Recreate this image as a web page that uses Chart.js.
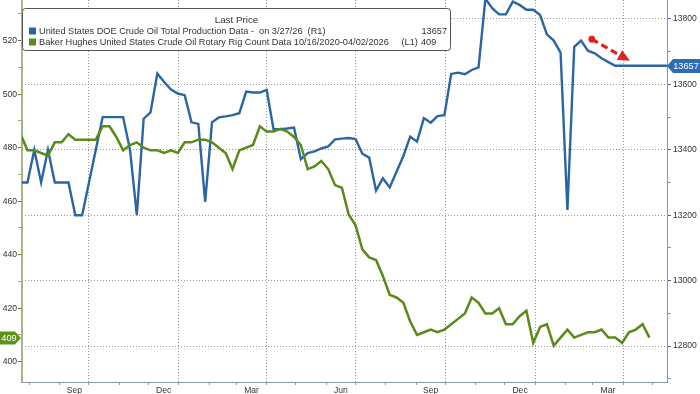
<!DOCTYPE html>
<html>
<head>
<meta charset="utf-8">
<script src="https://cdn.jsdelivr.net/npm/chart.js@4.4.1/dist/chart.umd.min.js"></script>
<style>
  html, body { margin: 0; padding: 0; background: #fff; }
</style>
</head>
<body>
<canvas id="grafico" width="700" height="394"></canvas>
<script>
// Variables
// Semana del primer punto (una semana antes del borde izquierdo)
const inicioSerie = '2024-07-23';

// DOE produccion semanal de crudo, miles b/d (eje derecho, R1)
const produccion = [
  13300, 13300, 13400, 13300, 13400, 13300, 13300, 13300, 13200, 13200,
  13300, 13400, 13500, 13500, 13500, 13500, 13400, 13200, 13495, 13514,
  13633, 13607, 13584, 13572, 13567, 13484, 13479, 13241, 13484, 13499,
  13502, 13506, 13512, 13578, 13575, 13575, 13583, 13463, 13463, 13465,
  13468, 13371, 13390, 13395, 13404, 13410, 13432, 13434, 13436, 13433,
  13388, 13376, 13275, 13313, 13285, 13333, 13381, 13440, 13425, 13497,
  13483, 13503, 13506, 13632, 13636, 13631, 13644, 13652, 13862, 13833,
  13814, 13814, 13853, 13843, 13828, 13828, 13812, 13753, 13734, 13697,
  13216, 13715, 13734, 13703, 13695, 13680, 13668, 13657
];

// Baker Hughes equipos de crudo (eje izquierdo, L1)
const equipos = [
  485, 479, 479, 478, 477, 482, 482, 485, 483, 483,
  483, 483, 488, 488, 484, 479, 481, 482, 480, 479,
  479, 478, 479, 478, 482, 482, 483, 483, 482, 480,
  478, 472, 479, 480, 481, 488, 486, 486, 487, 486,
  484, 481, 472, 473, 475, 472, 466, 465, 455, 451,
  442, 439, 438, 432, 425, 424, 422, 415, 410, 411,
  412, 411, 412, 414, 416, 418, 424, 422, 418, 418,
  420, 414, 414, 417, 419, 407, 413, 414, 406, 409,
  412, 409, 410, 411, 411, 412, 409, 409, 407, 411,
  412, 414, 409
];

// Marcas de los ejes
const ticksIzq = [400, 420, 440, 460, 480, 500, 520];
const ticksDer = [12800, 13000, 13200, 13400, 13600, 13800];
const mesesX = ['2024-09', '2024-12', '2025-03', '2025-06', '2025-09', '2025-12', '2026-03'];
const etiquetasX = ['Sep', 'Dec', 'Mar', 'Jun', 'Sep', 'Dec', 'Mar'];

// Textos de la leyenda
const tituloLeyenda = 'Last Price';
const nombreProduccion = 'United States DOE Crude Oil Total Production Data -  on 3/27/26  (R1)';
const nombreEquipos = 'Baker Hughes United States Crude Oil Rotary Rig Count Data 10/16/2020-04/02/2026';
const ejeEquipos = '(L1)';

// Flecha roja (en fecha y valor del eje derecho)
const flechaDesde = { fecha: '2026-02-28', valor: 13738 };
const flechaHasta = { fecha: '2026-04-08', valor: 13672 };

const AZUL = '#2c65a3';
const VERDE = '#5a8a1a';
const FUENTE = '"Liberation Sans", Arial, sans-serif';

// Dias desde el 1/10/2024
const DIA0 = Date.UTC(2024, 9, 1);
function diaDe(fecha) {
  const [a, m, d] = fecha.split('-').map(Number);
  return (Date.UTC(a, m - 1, d || 1) - DIA0) / 86400000;
}

const xMin = -68.6;
const xMax = 592;

function armarPuntos(valores) {
  const d0 = diaDe(inicioSerie);
  return valores.map((v, i) => ({ x: d0 + 7 * i, y: v }));
}

const puntosProduccion = armarPuntos(produccion);
// Bloomberg extiende el ultimo valor hasta el borde derecho
puntosProduccion.push({ x: xMax, y: produccion[produccion.length - 1] });
const puntosEquipos = armarPuntos(equipos);

// Ticks del eje x: inicio de cada mes y centro de los meses con etiqueta
const iniciosMes = [];
const trimestres = new Set();
for (let a = 2024, m = 8; a < 2026 || m <= 5; m++) {
  if (m > 12) { m = 1; a++; }
  const d = diaDe(`${a}-${m}-1`);
  iniciosMes.push(d);
  if (m % 3 === 1) trimestres.add(d);
}
const rotulos = new Map();
mesesX.forEach((mes, i) => {
  const [a, m] = mes.split('-').map(Number);
  const sig = m === 12 ? `${a + 1}-1-1` : `${a}-${m + 1}-1`;
  const centro = (diaDe(mes + '-1') + diaDe(sig)) / 2;
  rotulos.set(centro, etiquetasX[i]);
});
const ticksX = iniciosMes.concat([...rotulos.keys()]).sort((a, b) => a - b);

const PUNTEADO = [1, 2];
const GRIS = '#9a9a9a';

// Plugin para leyenda, flecha y cajas de ultimo valor
const extras = {
  id: 'extras',
  afterDraw(chart) {
    const c = chart.ctx;
    const area = chart.chartArea;
    const x = chart.scales.x;
    const yDer = chart.scales.yDer;
    const yIzq = chart.scales.yIzq;

    // flecha roja punteada
    const x1 = x.getPixelForValue(diaDe(flechaDesde.fecha));
    const y1 = yDer.getPixelForValue(flechaDesde.valor);
    const x2 = x.getPixelForValue(diaDe(flechaHasta.fecha));
    const y2 = yDer.getPixelForValue(flechaHasta.valor);
    const ang = Math.atan2(y2 - y1, x2 - x1);
    const largoCabeza = 12;
    const anchoCabeza = 5.5;
    const bx = x2 - largoCabeza * Math.cos(ang);
    const by = y2 - largoCabeza * Math.sin(ang);
    c.save();
    c.strokeStyle = '#e3211c';
    c.fillStyle = '#e3211c';
    c.lineWidth = 3.2;
    c.setLineDash([7, 4]);
    c.beginPath();
    c.moveTo(x1, y1);
    c.lineTo(bx, by);
    c.stroke();
    c.setLineDash([]);
    c.beginPath();
    c.arc(x1, y1, 3.4, 0, Math.PI * 2);
    c.fill();
    c.beginPath();
    c.moveTo(x2, y2);
    c.lineTo(bx + anchoCabeza * Math.sin(ang), by - anchoCabeza * Math.cos(ang));
    c.lineTo(bx - anchoCabeza * Math.sin(ang), by + anchoCabeza * Math.cos(ang));
    c.closePath();
    c.fill();
    c.restore();

    // leyenda
    const lx = area.left + 0.5, ly = 8.5, lw = 428, lh = 42;
    c.save();
    c.fillStyle = '#fff';
    c.strokeStyle = '#555';
    c.lineWidth = 1;
    c.beginPath();
    c.roundRect(lx, ly, lw, lh, 3);
    c.fill();
    c.stroke();
    c.fillStyle = '#333';
    c.font = '9.8px ' + FUENTE;
    c.textBaseline = 'middle';
    c.textAlign = 'center';
    c.fillText(tituloLeyenda, lx + 214, ly + 11.5);
    c.font = '9.2px ' + FUENTE;
    c.textAlign = 'left';
    c.fillStyle = AZUL;
    c.fillRect(lx + 6.5, ly + 19, 7, 7);
    c.fillStyle = VERDE;
    c.fillRect(lx + 6.5, ly + 30, 7, 7);
    c.fillStyle = '#333';
    c.fillText(nombreProduccion, lx + 16.5, ly + 23);
    c.fillText(nombreEquipos, lx + 16.5, ly + 34);
    c.fillText(ejeEquipos, lx + 379, ly + 34);
    c.fillText(String(produccion[produccion.length - 1]), lx + 399, ly + 23);
    c.fillText(String(equipos[equipos.length - 1]), lx + 398.5, ly + 34);
    c.restore();

    // caja del ultimo valor (derecha, azul)
    const yb = Math.round(yDer.getPixelForValue(produccion[produccion.length - 1]));
    c.save();
    c.fillStyle = '#2f6db3';
    c.beginPath();
    c.moveTo(area.right, yb);
    c.lineTo(area.right + 6, yb - 7);
    c.lineTo(chart.width, yb - 7);
    c.lineTo(chart.width, yb + 7);
    c.lineTo(area.right + 6, yb + 7);
    c.closePath();
    c.fill();
    c.fillStyle = '#fff';
    c.font = '9.2px ' + FUENTE;
    c.textBaseline = 'middle';
    c.textAlign = 'center';
    c.fillText(String(produccion[produccion.length - 1]), (area.right + 5 + chart.width) / 2, yb + 0.5);

    // caja del ultimo valor (izquierda, verde)
    const yg = Math.round(yIzq.getPixelForValue(equipos[equipos.length - 1]));
    c.fillStyle = '#5b9218';
    c.beginPath();
    c.moveTo(0, yg - 6.5);
    c.lineTo(area.left - 7, yg - 6.5);
    c.lineTo(area.left - 1, yg);
    c.lineTo(area.left - 7, yg + 6.5);
    c.lineTo(0, yg + 6.5);
    c.closePath();
    c.fill();
    c.fillStyle = '#fff';
    c.fillText(String(equipos[equipos.length - 1]), (area.left - 4) / 2, yg + 0.5);
    c.restore();
  }
};

const fuenteEjes = { family: FUENTE, size: 8.6 };

const ctx = document.getElementById('grafico').getContext('2d');
const grafico = new Chart(ctx, {
  type: 'line',
  data: {
    datasets: [
      {
        label: nombreEquipos,
        data: puntosEquipos,
        yAxisID: 'yIzq',
        borderColor: VERDE,
        borderWidth: 2.5,
        pointRadius: 0,
        tension: 0,
        clip: 0,
      },
      {
        label: nombreProduccion,
        data: puntosProduccion,
        yAxisID: 'yDer',
        borderColor: AZUL,
        borderWidth: 2.4,
        pointRadius: 0,
        tension: 0,
        clip: 0,
      },
    ],
  },
  options: {
    responsive: false,
    animation: false,
    devicePixelRatio: 1,
    layout: { padding: 0 },
    plugins: {
      legend: { display: false },
      tooltip: { enabled: false },
    },
    scales: {
      x: {
        type: 'linear',
        position: 'bottom',
        min: xMin,
        max: xMax,
        afterBuildTicks: escala => {
          escala.ticks = ticksX.map(v => ({ value: v }));
        },
        afterFit: escala => {
          escala.height = 12;
          escala.paddingLeft = 0;
          escala.paddingRight = 0;
        },
        grid: {
          color: c => (c.tick && trimestres.has(c.tick.value) ? GRIS : 'transparent'),
          tickColor: c => (c.tick && rotulos.has(c.tick.value) ? 'transparent' : '#8797ab'),
          tickLength: 3,
          lineWidth: 1,
        },
        border: { color: '#8797ab', width: 1, dash: PUNTEADO },
        ticks: {
          autoSkip: false,
          maxRotation: 0,
          padding: 0,
          color: '#333',
          font: fuenteEjes,
          callback: v => rotulos.get(v) || '',
        },
      },
      yIzq: {
        type: 'linear',
        position: 'left',
        min: 392.4,
        max: 535.2,
        afterFit: escala => {
          escala.width = 22;
          escala.paddingTop = 0;
          escala.paddingBottom = 0;
        },
        grid: {
          drawOnChartArea: false,
          tickLength: 4,
          tickColor: c => (c.tick && ticksIzq.includes(c.tick.value) ? '#5f7427' : '#9aa873'),
        },
        border: { color: '#a9b389', width: 2 },
        ticks: {
          stepSize: 10,
          includeBounds: false,
          padding: 1,
          color: '#333',
          font: fuenteEjes,
          callback: v => (ticksIzq.includes(v) ? String(v) : ''),
        },
      },
      yDer: {
        type: 'linear',
        position: 'right',
        min: 12690,
        max: 13858,
        afterFit: escala => {
          escala.width = 33;
          escala.paddingTop = 0;
          escala.paddingBottom = 0;
        },
        grid: {
          color: c => (c.tick && ticksDer.includes(c.tick.value) ? GRIS : 'transparent'),
          tickLength: 4,
          tickColor: c => (c.tick && ticksDer.includes(c.tick.value) ? '#3f6490' : '#7f97b5'),
          lineWidth: 1,
        },
        border: { color: '#7f97b5', width: 1, dash: PUNTEADO },
        ticks: {
          stepSize: 100,
          includeBounds: false,
          padding: 2,
          color: '#333',
          font: fuenteEjes,
          callback: v => (ticksDer.includes(v) ? String(v) : ''),
        },
      },
    },
  },
  plugins: [extras],
});
</script>
</body>
</html>
